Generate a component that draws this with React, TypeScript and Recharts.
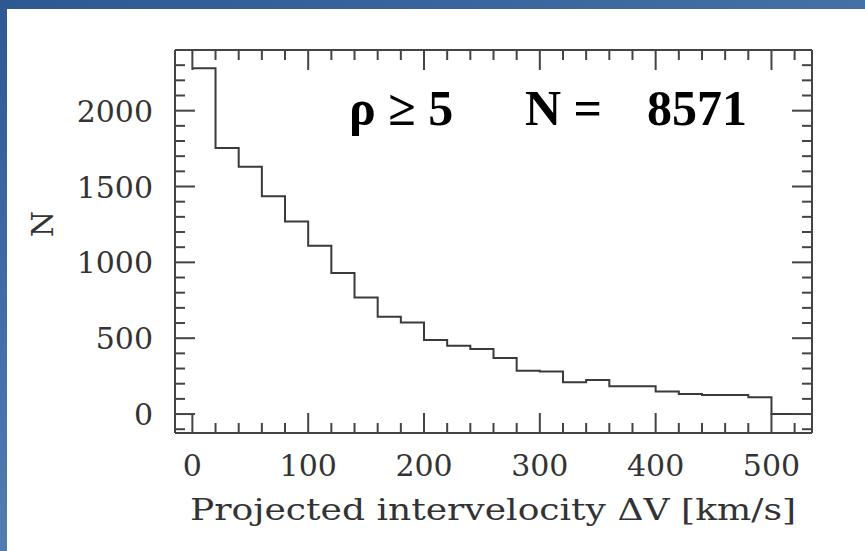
import React from "react";
import { LineChart, Line, XAxis, YAxis } from "recharts";

// histogram of projected intervelocities, 20 km/s bins
const BIN_START = [0, 20, 40, 60, 80, 100, 120, 140, 160, 180, 200, 220, 240, 260, 280, 300, 320, 340, 360, 380, 400, 420, 440, 460, 480, 500, 520];
const COUNTS = [2280, 1754, 1631, 1435, 1270, 1110, 930, 769, 642, 604, 488, 451, 429, 370, 286, 280, 209, 225, 183, 183, 148, 132, 126, 126, 111, 0, 0];

const X_TICKS = [0, 20, 40, 60, 80, 100, 120, 140, 160, 180, 200, 220, 240, 260, 280, 300, 320, 340, 360, 380, 400, 420, 440, 460, 480, 500, 520];
const X_MAJOR = [0, 100, 200, 300, 400, 500];
const Y_TICKS = [-100, 0, 100, 200, 300, 400, 500, 600, 700, 800, 900, 1000, 1100, 1200, 1300, 1400, 1500, 1600, 1700, 1800, 1900, 2000, 2100, 2200, 2300];
const Y_MAJOR = [0, 500, 1000, 1500, 2000];

const X_MIN = -15;
const X_MAX = 535;
const Y_MIN = -125;
const Y_MAX = 2400;

const W = 865;
const H = 551;

const data = [
  ...BIN_START.map((v, i) => ({ v, n: COUNTS[i] })),
  { v: X_MAX, n: COUNTS[COUNTS.length - 1] },
];

const FRAME = "#444";
const LABEL_FONT = "'DejaVu Serif', serif";
const MAJOR = 20;
const MINOR = 10;

const BottomTick = (props: any) => {
  const { x, y, payload } = props;
  const major = X_MAJOR.includes(payload.value);
  return (
    <g>
      <line x1={x} x2={x} y1={y} y2={y - (major ? MAJOR : MINOR)} stroke={FRAME} strokeWidth={2} />
      {major && (
        <text x={x} y={y + 43} textAnchor="middle" fontFamily={LABEL_FONT} fontSize={30} fill="#333">
          {payload.value}
        </text>
      )}
    </g>
  );
};

const TopTick = (props: any) => {
  const { x, y, payload } = props;
  const major = X_MAJOR.includes(payload.value);
  return <line x1={x} x2={x} y1={y} y2={y + (major ? MAJOR : MINOR)} stroke={FRAME} strokeWidth={2} />;
};

const LeftTick = (props: any) => {
  const { x, y, payload } = props;
  const major = Y_MAJOR.includes(payload.value);
  return (
    <g>
      <line x1={x} x2={x + (major ? MAJOR : MINOR)} y1={y} y2={y} stroke={FRAME} strokeWidth={2} />
      {major && (
        <text x={x - 22} y={y + 11} textAnchor="end" fontFamily={LABEL_FONT} fontSize={30} fill="#333">
          {payload.value}
        </text>
      )}
    </g>
  );
};

const RightTick = (props: any) => {
  const { x, y, payload } = props;
  const major = Y_MAJOR.includes(payload.value);
  return <line x1={x} x2={x - (major ? MAJOR : MINOR)} y1={y} y2={y} stroke={FRAME} strokeWidth={2} />;
};

const axisLine = { stroke: FRAME, strokeWidth: 2 };

export default function App() {
  return (
    <div style={{ position: "fixed", left: 0, top: 0, width: W, height: H, background: "#fff", overflow: "hidden" }}>
      <div style={{ position: "absolute", left: 0, top: 0, width: W, height: 9, background: "linear-gradient(90deg, #2e5892, #4570a5)" }} />
      <div style={{ position: "absolute", left: 0, top: 0, width: 7, height: H, background: "linear-gradient(180deg, #2e5892, #527db3)" }} />
      <div style={{ position: "absolute", left: 0, top: 0 }}>
        <LineChart width={W} height={H} data={data} margin={{ top: 0, right: 0, bottom: 0, left: 0 }}>
          <XAxis
            dataKey="v"
            type="number"
            domain={[X_MIN, X_MAX]}
            ticks={X_TICKS}
            allowDataOverflow
            height={118}
            tickSize={0}
            tickMargin={0}
            tickLine={false}
            axisLine={axisLine}
            tick={<BottomTick />}
            interval={0}
          />
          <XAxis
            xAxisId="top"
            orientation="top"
            dataKey="v"
            type="number"
            domain={[X_MIN, X_MAX]}
            ticks={X_TICKS}
            allowDataOverflow
            height={50}
            tickSize={0}
            tickMargin={0}
            tickLine={false}
            axisLine={axisLine}
            tick={<TopTick />}
            interval={0}
          />
          <YAxis
            type="number"
            domain={[Y_MIN, Y_MAX]}
            ticks={Y_TICKS}
            allowDataOverflow
            width={175}
            tickSize={0}
            tickMargin={0}
            tickLine={false}
            axisLine={axisLine}
            tick={<LeftTick />}
            interval={0}
          />
          <YAxis
            yAxisId="right"
            orientation="right"
            type="number"
            domain={[Y_MIN, Y_MAX]}
            ticks={Y_TICKS}
            allowDataOverflow
            width={53}
            tickSize={0}
            tickMargin={0}
            tickLine={false}
            axisLine={axisLine}
            tick={<RightTick />}
            interval={0}
          />
          <Line
            type="stepAfter"
            dataKey="n"
            stroke="#3a3a3a"
            strokeWidth={2}
            dot={false}
            isAnimationActive={false}
          />
          <text x={493} y={520} textAnchor="middle" textLength={606} lengthAdjust="spacingAndGlyphs" fontFamily={LABEL_FONT} fontSize={30} fill="#333">
            Projected intervelocity ΔV [km/s]
          </text>
          <text x={42} y={224} textAnchor="middle" dominantBaseline="central" fontFamily={LABEL_FONT} fontSize={30} fill="#333" transform="rotate(-90 42 224)">
            N
          </text>
          <text x={349} y={125} fontFamily="'Liberation Serif', serif" fontWeight="bold" fontSize={50} fill="#000">
            ρ ≥ 5
          </text>
          <text x={525} y={125} fontFamily="'Liberation Serif', serif" fontWeight="bold" fontSize={50} fill="#000">
            N =
          </text>
          <text x={647} y={125} fontFamily="'Liberation Serif', serif" fontWeight="bold" fontSize={50} fill="#000">
            8571
          </text>
        </LineChart>
      </div>
    </div>
  );
}
